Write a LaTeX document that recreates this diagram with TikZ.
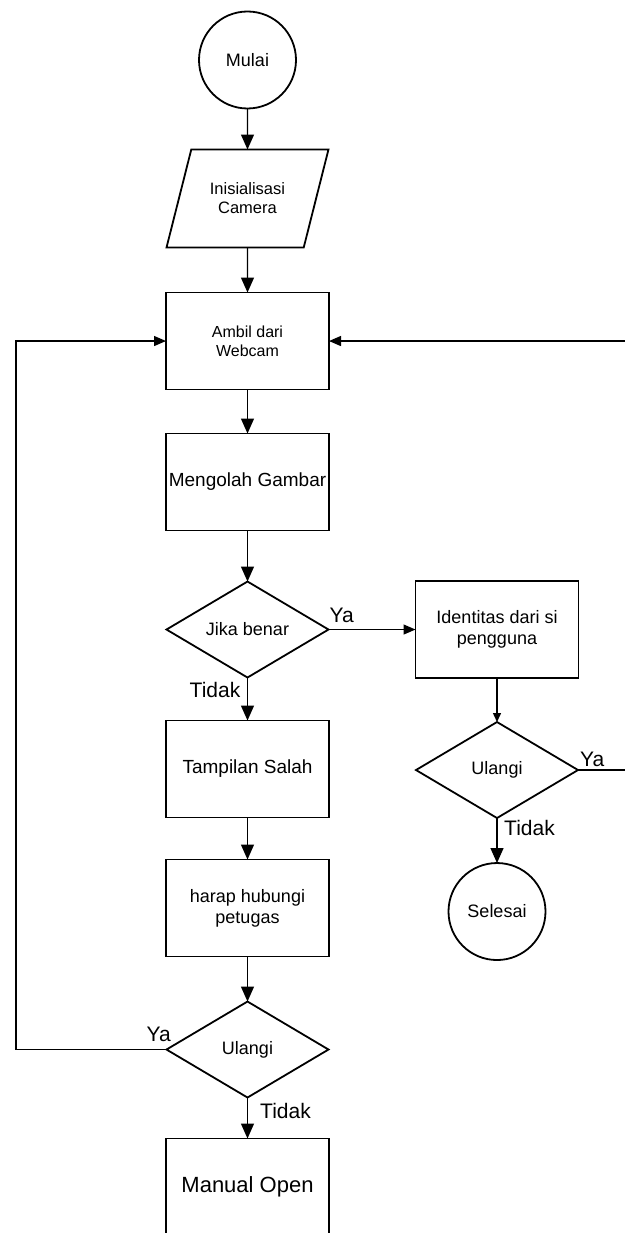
\documentclass[tikz,border=0pt]{standalone}
\usepackage{fontspec}
\setmainfont{Liberation Sans}
\usepackage{tikz}
\usetikzlibrary{shapes.geometric,arrows.meta,positioning}

\begin{document}
\begin{tikzpicture}[
    x=1pt, y=-1pt,
    box/.style={rectangle, draw, line width=1.8pt, minimum width=163pt, minimum height=97pt,
        inner sep=0pt, outer sep=0pt, align=center, font=\fontsize{18}{21}\selectfont},
    io/.style={trapezium, trapezium left angle=62, trapezium right angle=118, trapezium stretches=true,
        draw, line width=1.8pt, minimum width=162pt, minimum height=98pt,
        inner sep=0pt, outer sep=0pt, align=center, font=\fontsize{16.5}{19}\selectfont},
    decision/.style={diamond, draw, line width=1.8pt, aspect=1.7, minimum width=162pt, minimum height=96pt,
        inner sep=0pt, outer sep=0pt, align=center, font=\fontsize{18}{21}\selectfont},
    terminal/.style={circle, draw, line width=1.8pt, minimum size=97pt,
        inner sep=0pt, outer sep=0pt, align=center, font=\fontsize{18}{21}\selectfont},
    lbl/.style={inner sep=0pt, font=\fontsize{21}{24}\selectfont},
    line/.style={line width=1.3pt},
    >={Triangle[length=15pt,width=13pt]},
    sidearrow/.style={line width=1.3pt, -{Triangle[length=12pt,width=10pt]}}
]
\useasboundingbox (0,0) rectangle (624,1233);

% main column
\node[terminal] (mulai) at (247.5,60) {Mulai};
\node[io, below=41pt of mulai] (kamera) {Inisialisasi\\Camera};
\node[box, below=45pt of kamera, font=\fontsize{16}{19}\selectfont] (ambil) {Ambil dari\\Webcam};
\node[box, below=44pt of ambil, font=\fontsize{19}{22}\selectfont] (olah) {Mengolah Gambar};
\node[decision, below=51pt of olah] (jika) {Jika benar};
\node[box, below=43pt of jika, font=\fontsize{19}{22}\selectfont] (salah) {Tampilan Salah};
\node[box, below=42pt of salah] (petugas) {harap hubungi\\petugas};
\node[decision, below=45pt of petugas] (ulangi1) {Ulangi};
\node[box, below=41pt of ulangi1, font=\fontsize{22}{25}\selectfont] (manual) {Manual Open};

% right column
\node[box, right=87pt of jika] (identitas) {Identitas dari si\\pengguna};
\node[decision, below=44pt of identitas] (ulangi2) {Ulangi};
\node[terminal, below=45pt of ulangi2] (selesai) {Selesai};

% loop corners
\coordinate (kiri) at (16,0);
\coordinate (kanan) at (630,0);

% labels
\node[lbl, anchor=south west] (ya1) at ([xshift=1pt,yshift=7pt]jika.east) {Ya};
\node[lbl, anchor=north east] (tidak1) at ([xshift=-7pt,yshift=-5pt]jika.south) {Tidak};
\node[lbl, anchor=south west] (ya2) at ([xshift=2pt,yshift=3pt]ulangi2.east) {Ya};
\node[lbl, anchor=north west] (tidak2) at ([xshift=7pt,yshift=-2pt]ulangi2.south) {Tidak};
\node[lbl, anchor=south east] (ya3) at ([xshift=4.5pt,yshift=7.5pt]ulangi1.west) {Ya};
\node[lbl, anchor=north west] (tidak3) at ([xshift=12.5pt,yshift=-6pt]ulangi1.south) {Tidak};

% connectors
\draw[->, line] (mulai) -- (kamera);
\draw[->, line] (kamera) -- (ambil);
\draw[->, line] (ambil) -- (olah);
\draw[->, line] (olah) -- (jika);
\draw[->, line] (jika) -- (salah);
\draw[->, line] (salah) -- (petugas);
\draw[->, line] (petugas) -- (ulangi1);
\draw[->, line] (ulangi1) -- (manual);
\draw[sidearrow] (jika.east) -- (identitas.west);
\draw[line, -{Triangle[length=9pt,width=8pt]}] (identitas) -- (ulangi2);
\draw[->, line] (ulangi2) -- (selesai);
\draw[sidearrow] (ulangi1.west) -- (ulangi1.west -| kiri) |- (ambil.west);
\draw[sidearrow] (ulangi2.east) -- (ulangi2.east -| kanan) |- (ambil.east);
\end{tikzpicture}
\end{document}
